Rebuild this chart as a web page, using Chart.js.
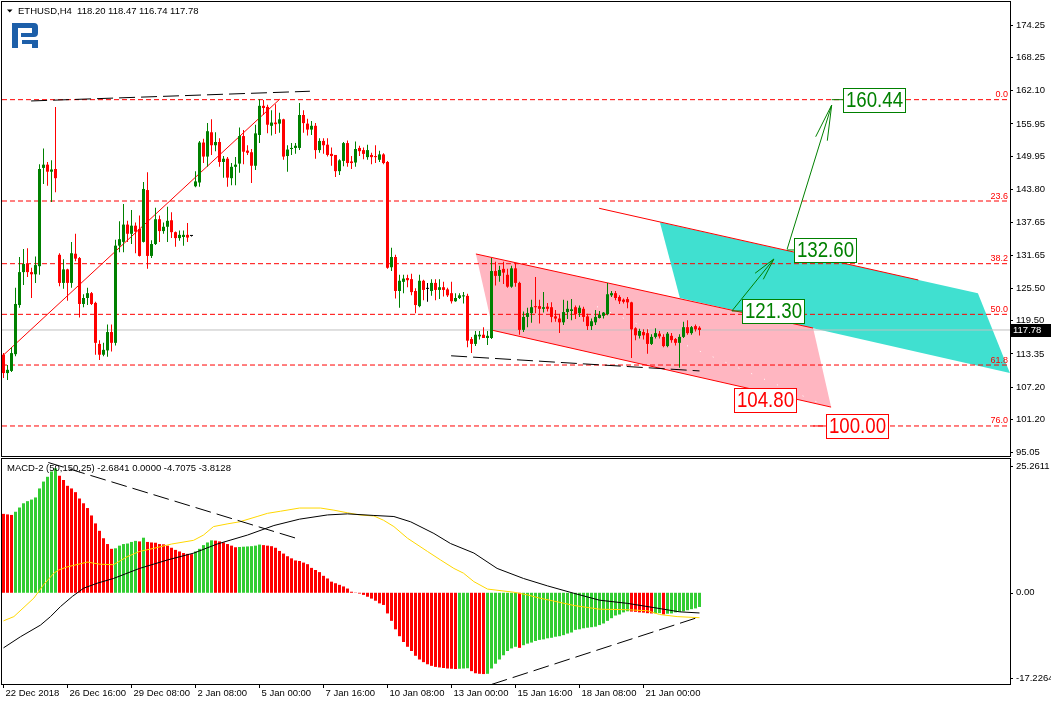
<!DOCTYPE html>
<html>
<head>
<meta charset="utf-8">
<script src="https://cdn.jsdelivr.net/npm/chart.js@4.4.0/dist/chart.umd.min.js"></script>
<style>
  html, body { margin: 0; padding: 0; background: #fff; }
  #wrap { position: relative; width: 1051px; height: 705px; }
  #price { position: absolute; left: 0; top: 0; }
  #macd { position: absolute; left: 0; top: 457px; }
</style>
</head>
<body>
<div id="wrap">
  <canvas id="price" width="1051" height="458"></canvas>
  <canvas id="macd" width="1051" height="248"></canvas>
</div>
<script>
// ETHUSD H4 candles, one entry per bar
const open = [
  113.2, 109.8, 110.2, 113.3, 122.4, 128.5, 130.0, 128.5, 128.1, 129.6,
  147.8, 148.4, 147.1, 147.6, 131.7, 126.5, 129.0, 126.5, 131.9, 131.1,
  122.6, 123.7, 124.6, 122.8, 115.2, 113.2, 114.0, 117.4, 115.4, 133.4,
  134.1, 137.3, 135.6, 137.1, 136.5, 134.1, 143.7, 131.5, 133.7, 138.3,
  136.1, 136.9, 138.1, 135.9, 134.8, 135.0, 135.4, 135.2, 144.4, 145.1,
  152.5, 149.9, 154.4, 152.0, 152.6, 148.9, 149.5, 145.9, 148.0, 148.6,
  153.7, 151.0, 150.7, 148.2, 153.9, 159.3, 159.1, 155.6, 156.2, 156.0,
  156.8, 150.0, 151.3, 151.5, 151.5, 157.6, 156.0, 154.9, 155.6, 151.1,
  152.8, 152.1, 150.4, 150.2, 147.2, 149.1, 152.4, 149.0, 148.8, 151.5,
  151.1, 149.8, 150.2, 150.0, 149.3, 150.3, 148.9, 129.4, 131.3, 125.0,
  126.7, 127.4, 127.2, 125.0, 122.2, 126.9, 125.4, 125.0, 126.5, 125.2,
  125.7, 125.3, 124.6, 123.1, 123.7, 124.0, 124.1, 116.1, 115.2, 116.6,
  116.9, 116.3, 116.3, 128.7, 127.8, 129.1, 128.0, 125.8, 129.2, 126.5,
  117.8, 120.2, 120.9, 122.2, 122.2, 121.7, 122.1, 122.0, 120.3, 119.9,
  119.2, 121.1, 121.3, 122.0, 120.9, 121.7, 120.3, 118.5, 119.2, 120.0,
  120.4, 120.7, 124.2, 124.6, 123.9, 123.4, 123.5, 122.9, 118.1, 116.7,
  117.4, 117.2, 115.2, 116.5, 117.1, 116.5, 114.8, 116.7, 116.1, 115.4,
  116.5, 118.3, 117.2, 118.5, 118.20
];
const high = [
  113.5, 111.3, 114.6, 125.6, 131.3, 132.8, 132.9, 129.3, 131.4, 148.5,
  151.4, 148.9, 149.2, 159.1, 132.0, 130.9, 129.1, 134.1, 135.6, 131.3,
  124.4, 125.6, 124.8, 123.0, 115.9, 115.4, 118.8, 118.8, 134.5, 137.9,
  141.1, 138.0, 140.0, 137.7, 139.0, 145.2, 147.0, 134.4, 140.4, 139.0,
  137.7, 140.6, 139.6, 136.0, 136.2, 136.2, 137.6, 135.3, 147.2, 152.8,
  153.2, 156.1, 156.8, 154.4, 153.3, 150.0, 149.8, 148.7, 149.8, 155.3,
  154.8, 152.0, 151.3, 155.8, 160.5, 160.4, 159.5, 158.5, 159.6, 158.0,
  156.9, 152.0, 152.4, 152.4, 159.8, 158.5, 156.9, 156.5, 156.1, 153.3,
  153.3, 153.3, 151.6, 150.2, 149.4, 152.6, 152.9, 150.0, 152.7, 151.9,
  151.6, 152.1, 150.6, 152.0, 151.0, 150.5, 149.1, 133.0, 131.7, 128.0,
  128.0, 128.0, 128.2, 125.5, 128.0, 127.1, 126.5, 127.2, 127.2, 127.2,
  126.7, 125.6, 126.7, 124.6, 124.6, 124.8, 124.5, 116.5, 117.6, 117.6,
  118.3, 117.6, 131.1, 130.4, 129.7, 130.4, 129.1, 129.7, 130.2, 126.7,
  121.2, 121.9, 123.4, 127.6, 123.4, 124.8, 122.8, 122.9, 121.5, 120.8,
  123.4, 123.2, 123.5, 122.3, 122.3, 122.1, 120.8, 119.9, 121.5, 121.3,
  121.1, 126.5, 125.0, 125.0, 124.2, 123.6, 123.9, 123.0, 118.3, 118.0,
  117.9, 117.9, 117.0, 118.1, 117.6, 117.0, 117.4, 117.2, 116.3, 117.0,
  119.3, 119.6, 118.5, 118.8, 118.47
];
const low = [
  108.9, 108.5, 110.0, 112.9, 121.9, 126.1, 127.6, 123.7, 126.5, 128.0,
  144.8, 144.5, 141.5, 143.3, 125.9, 125.4, 123.2, 125.6, 130.5, 120.1,
  122.0, 122.4, 122.4, 113.2, 112.2, 112.9, 112.8, 113.8, 114.9, 132.2,
  132.2, 134.1, 133.7, 132.0, 131.4, 134.0, 129.1, 131.1, 133.5, 134.1,
  135.6, 134.1, 134.8, 133.2, 134.3, 133.4, 134.1, 135.1, 144.2, 144.3,
  148.7, 148.0, 150.2, 150.9, 148.0, 146.0, 144.3, 144.6, 144.6, 146.9,
  148.5, 150.2, 145.0, 147.4, 152.4, 157.6, 154.2, 153.8, 154.1, 154.3,
  149.3, 147.1, 150.2, 150.4, 151.1, 154.3, 153.8, 153.9, 149.5, 150.6,
  150.4, 149.9, 148.2, 146.1, 146.5, 148.1, 148.0, 147.6, 148.0, 150.0,
  149.4, 149.3, 148.5, 148.7, 148.9, 148.5, 129.1, 128.7, 123.6, 121.9,
  124.6, 125.7, 124.2, 120.9, 122.0, 123.3, 123.0, 124.1, 123.3, 123.5,
  124.0, 123.9, 122.7, 123.0, 123.5, 122.7, 114.6, 113.5, 114.8, 116.0,
  116.3, 115.0, 116.1, 126.0, 126.7, 126.3, 125.6, 125.6, 125.8, 116.9,
  117.4, 118.3, 119.1, 120.9, 119.0, 121.0, 121.2, 119.2, 119.3, 117.2,
  118.7, 119.8, 119.6, 119.8, 120.2, 119.3, 117.8, 117.8, 118.7, 119.9,
  119.9, 120.5, 123.9, 123.3, 122.6, 122.7, 121.8, 112.6, 115.9, 116.2,
  116.0, 113.4, 115.0, 116.2, 116.2, 114.6, 114.6, 115.4, 114.9, 110.8,
  116.3, 116.9, 116.9, 117.5, 116.74
];
const close = [
  109.8, 110.4, 113.5, 122.6, 128.5, 130.0, 128.5, 128.1, 129.8, 147.6,
  148.4, 147.1, 147.5, 145.9, 126.5, 129.0, 126.5, 132.0, 131.0, 122.6,
  123.7, 124.6, 122.6, 115.4, 113.2, 114.1, 117.4, 115.4, 133.4, 134.6,
  137.3, 135.6, 137.1, 136.0, 131.5, 143.9, 131.5, 133.7, 138.3, 136.1,
  136.9, 138.0, 135.9, 134.8, 135.4, 135.4, 134.9, 135.2, 145.3, 152.5,
  149.9, 154.6, 152.0, 152.6, 148.9, 149.5, 146.0, 148.0, 148.4, 153.7,
  150.8, 150.6, 148.2, 154.2, 159.3, 158.9, 155.8, 156.2, 155.9, 156.8,
  149.9, 151.2, 151.5, 151.9, 157.6, 156.1, 154.9, 155.6, 151.1, 152.8,
  152.0, 150.2, 150.0, 147.2, 149.2, 152.4, 148.7, 148.7, 151.3, 150.9,
  150.4, 151.1, 149.8, 149.8, 150.3, 148.7, 129.3, 131.3, 125.0, 126.9,
  127.3, 127.0, 124.8, 122.4, 126.9, 125.2, 125.4, 126.5, 125.2, 125.7,
  125.2, 124.2, 123.1, 123.7, 124.2, 124.2, 115.8, 115.2, 116.9, 116.9,
  116.3, 116.7, 128.7, 127.8, 128.9, 128.4, 125.8, 129.2, 126.5, 117.8,
  120.2, 120.9, 122.0, 122.0, 121.7, 122.0, 121.7, 120.2, 119.9, 119.2,
  121.1, 121.7, 121.6, 120.7, 121.9, 120.2, 118.5, 119.4, 120.2, 120.6,
  121.0, 124.4, 124.6, 123.7, 123.1, 123.0, 122.9, 117.9, 116.8, 117.6,
  116.8, 115.2, 116.5, 117.2, 116.6, 114.8, 117.1, 115.9, 115.4, 116.5,
  118.3, 117.2, 118.3, 117.9, 117.78
];

// MACD-2 histogram, one value per bar
const hist = [
  14.9, 14.8, 14.7, 15.3, 16.1, 16.9, 17.3, 17.6, 18.0, 19.7,
  21.0, 21.9, 22.9, 23.5, 22.1, 21.3, 20.2, 19.7, 19.0, 17.8,
  16.9, 16.0, 14.6, 13.1, 11.7, 10.3, 9.2, 8.3, 8.4, 8.9,
  9.2, 9.3, 9.6, 9.8, 9.7, 10.4, 9.6, 9.5, 9.45, 9.2,
  9.15, 8.9, 8.5, 8.1, 7.8, 7.5, 7.35, 7.3, 7.8, 8.3,
  9.0, 9.5, 9.9, 9.85, 9.7, 9.5, 9.2, 8.9, 8.6, 8.65,
  8.7, 8.75, 8.8, 8.9, 9.1, 9.0, 8.9, 8.8, 8.5, 7.9,
  7.4, 6.9, 6.5, 6.1, 6.0, 5.7, 5.4, 4.7, 4.3, 3.9,
  3.2, 2.7, 2.1, 1.8, 1.5, 1.2, 0.8, 0.2, 0.05, -0.15,
  -0.4, -0.75, -1.1, -1.5, -2.0, -2.3, -3.9, -5.3, -6.9, -8.2,
  -9.3, -10.2, -11.0, -11.9, -12.6, -13.1, -13.5, -13.8, -14.0, -14.1,
  -14.2, -14.3, -14.35, -14.4, -14.35, -14.3, -14.25, -14.8, -15.2, -15.3,
  -15.35, -15.3, -14.3, -13.4, -12.6, -11.8, -11.0, -10.5, -10.2, -10.4,
  -9.9, -9.6, -9.4, -9.1, -8.9, -8.8, -8.6, -8.5, -8.3, -8.2,
  -8.0, -7.7, -7.5, -7.0, -6.9, -6.7, -6.6, -6.5, -6.4, -6.1,
  -5.8, -5.3, -4.8, -4.3, -4.1, -3.7, -3.5, -3.55, -3.6, -3.7,
  -3.75, -3.85, -3.9, -3.88, -3.85, -4.1, -3.95, -3.9, -3.7, -3.6,
  -3.5, -3.3, -3.1, -2.95, -2.68
];
// MACD lines, [bar, value] points
const signalLine = [
  [0, -5.3], [2.6, -4.5], [7.6, -1.0], [10, 1.5], [12.6, 3.7], [13.8, 4.3], [16, 4.9], [21, 5.8],
  [24, 5.4], [27.5, 5.3], [30.9, 6.8], [34, 7.8], [37.6, 8.4], [42, 9.2], [47.5, 9.9], [50, 10.9],
  [52.5, 12.5], [55.9, 13.0], [59, 13.4], [63.4, 14.4], [66, 15.0], [69.25, 15.4], [74, 16.0],
  [79.25, 16.0], [82.6, 15.6], [86, 15.1], [89, 14.7], [92.6, 14.5], [95, 13.7], [97.6, 12.5],
  [101, 10.3], [106, 7.8], [109.25, 6.2], [112.6, 4.6], [115, 3.7], [117.6, 2.1], [121, 0.7],
  [127.6, 0.1], [131, -0.4], [134, -1.0], [138.4, -1.7], [142.6, -2.4], [149, -3.1], [156, -3.2],
  [161, -3.4], [164, -4.1], [168.4, -4.5], [174, -4.7075]
];
const mainLine = [
  [0, -10.4], [4.25, -8.3], [9.25, -6.1], [11.75, -4.5], [14.25, -2.6], [17.2, -0.7], [20, 0.85],
  [23.4, 1.8], [27.5, 2.7], [34, 4.6], [41, 6.2], [47.6, 7.5], [53.4, 9.2], [61, 10.9], [67.6, 12.7],
  [74, 13.9], [81, 14.7], [86, 14.9], [92.6, 14.6], [97.6, 14.4], [101.8, 13.4], [107.6, 11.2],
  [111.75, 9.3], [117.6, 7.5], [123.4, 4.6], [130, 2.7], [136, 1.3], [142.6, -0.1], [149, -1.4],
  [156, -2.0], [162.6, -2.8], [169, -3.6], [174, -3.8128]
];
const macdTrendHigh = [[11.2, 24.6], [74, 10.1]];
const macdTrendLow = [[122.05, -17.3], [173.7, -4.63]];

// price-panel drawings, [bar, price] points
const fibLevels = [160.44, 141.67, 130.06, 120.68, 111.29, 100.0];
const fibNames = ['0.0', '23.6', '38.2', '50.0', '61.8', '76.0'];
const riseLine = [[0, 113.15], [69.1, 160.56]];
const topDashed = [[6.9, 160.2], [76.6, 162.0]];
const lowDashed = [[111.9, 113.0], [174, 110.2]];
const pinkChannel = [[118.1, 131.86], [202.4, 118.14], [206.9, 103.5], [122.4, 117.7], [118.1, 131.86]];
const pinkTop = [[118.1, 131.86], [202.4, 118.14]];
const pinkBottom = [[122.4, 117.7], [206.9, 103.5]];
const pinkMid = [[148.4, 122.1], [204.1, 104.2]];
const cyanChannel = [[164.1, 137.75], [243.6, 124.6], [251.6, 109.8], [169.1, 123.7], [164.1, 137.75]];
const cyanTop = [[148.9, 140.32], [228.7, 127.04]];
const arrowLow = [[182.1, 121.3], [192.6, 130.93]];
const arrowLowHead = [[187.9, 128.29], [192.6, 130.93], [189.95, 127.17]];
const arrowHigh = [[195.9, 132.73], [207.05, 159.45]];
const arrowHighHead = [[203.05, 153.58], [207.05, 159.45], [205.95, 152.84]];
const targetText = ['160.44', '132.60', '121.30', '104.80', '100.00'];
const targetBar = [209.8, 197.7, 184.7, 182.7, 205.6];
const targetUp = [true, true, true, false, false];
const targetLead = [[207.05, 209.8], [195.9, 197.7], [182.1, 184.7], null, [202.4, 205.6]];

const priceTicks = [95.05, 101.20, 107.20, 113.35, 119.50, 125.50, 131.65, 137.65, 143.80, 149.95, 155.95, 162.10, 168.25, 174.25];
const macdTicks = [25.2611, 0, -17.2264];
const dateLabels = ['22 Dec 2018', '26 Dec 16:00', '29 Dec 08:00', '2 Jan 08:00', '5 Jan 00:00', '7 Jan 16:00',
  '10 Jan 08:00', '13 Jan 00:00', '15 Jan 16:00', '18 Jan 08:00', '21 Jan 00:00'];
const header = 'ETHUSD,H4  118.20 118.47 116.74 117.78';
const macdTitle = 'MACD-2 (50,150,25) -2.6841 0.0000 -4.7075 -3.8128';

const FONT = '"Liberation Sans", Arial, sans-serif';
const X_MIN = -0.375, X_MAX = 251.625;   // 4px per bar, chart is shifted to the left
Chart.defaults.font.family = FONT;

const bars = open.map((_, i) => i);
const candleColors = bars.map(i => close[i] > open[i] ? '#008000' : close[i] < open[i] ? '#ff0000' : '#000000');
const histColors = hist.map((v, i) => i > 0 && v > hist[i - 1] ? '#32cd32' : '#ff0000');
const last = close.length - 1;

function line(points, color, extra) {
  return Object.assign({
    type: 'line',
    data: points.map(([x, y]) => ({ x, y })),
    borderColor: color,
    borderWidth: 1,
    pointRadius: 0,
    fill: false,
    tension: 0,
    order: 60
  }, extra || {});
}

// keep the plot area fixed: no extra room for half labels at the ends
function noPad(s) {
  s.paddingTop = 0;
  s.paddingBottom = 0;
  s.paddingLeft = 0;
  s.paddingRight = 0;
}

const priceDatasets = [
  { label: 'wicks', data: bars.map(i => ({ x: i, y: [low[i], high[i]] })), backgroundColor: candleColors,
    barThickness: 1, grouped: false, inflateAmount: 0, order: 20 },
  { label: 'bodies', data: bars.map(i => ({ x: i, y: [open[i], close[i]] })), backgroundColor: candleColors,
    barThickness: 3, minBarLength: 1, grouped: false, inflateAmount: 0, order: 10 },
  line(cyanChannel, 'rgba(0,0,0,0)', { fill: 'shape', backgroundColor: '#40e0d0', order: 100 }),
  line(pinkChannel, 'rgba(0,0,0,0)', { fill: 'shape', backgroundColor: '#ffb6c1', order: 90 }),
  line(pinkMid, '#ffffff', { borderDash: [1, 13], order: 85 }),
  line([[X_MIN, close[last]], [X_MAX, close[last]]], '#c0c0c0', { order: 82 })
];
fibLevels.forEach(p => priceDatasets.push(line([[X_MIN, p], [X_MAX, p]], '#ff0000', { borderDash: [5, 3], order: 80 })));
[riseLine, pinkTop, pinkBottom, cyanTop].forEach(l => priceDatasets.push(line(l, '#ff0000', { order: 70 })));
[topDashed, lowDashed].forEach(l => priceDatasets.push(line(l, '#000000', { borderDash: [16, 6], order: 65 })));
[arrowLow, arrowLowHead, arrowHigh, arrowHighHead].forEach(l => priceDatasets.push(line(l, '#008000')));
targetLead.forEach((seg, k) => {
  if (!seg) return;
  const p = Number(targetText[k]);
  priceDatasets.push(line([[seg[0], p], [seg[1], p]], targetUp[k] ? '#008000' : '#ff0000'));
});

function drawLogo(ctx) {
  ctx.fillStyle = '#1d5fa9';
  ctx.fillRect(12, 23, 6, 25);
  ctx.beginPath();
  ctx.moveTo(12, 23);
  ctx.lineTo(33, 23);
  ctx.arcTo(38, 23, 38, 28, 4);
  ctx.lineTo(38, 33);
  ctx.arcTo(38, 37, 34, 37, 4);
  ctx.lineTo(21, 37);
  ctx.lineTo(21, 33);
  ctx.lineTo(32, 33);
  ctx.lineTo(32, 28);
  ctx.lineTo(12, 28);
  ctx.closePath();
  ctx.fill();
  ctx.fillRect(22, 40, 16, 4);
  ctx.fillRect(32, 40, 6, 8);
}

const priceOverlay = {
  id: 'priceOverlay',
  afterDatasetsDraw(chart) {
    const { ctx, chartArea: a, scales: { x, y } } = chart;
    ctx.save();
    // fibo captions
    ctx.font = '9px ' + FONT;
    ctx.fillStyle = '#ff0000';
    ctx.textAlign = 'right';
    ctx.textBaseline = 'alphabetic';
    fibLevels.forEach((p, k) => ctx.fillText(fibNames[k], a.right - 2, y.getPixelForValue(p) - 2.5));
    // boxed target prices
    targetText.forEach((t, k) => {
      const col = targetUp[k] ? '#008000' : '#ff0000';
      const left = Math.round(x.getPixelForValue(targetBar[k])) + 0.5;
      const cy = y.getPixelForValue(Number(t));
      const top = Math.round(cy - 12) + 0.5;
      ctx.fillStyle = '#ffffff';
      ctx.fillRect(left, top, 62, 24);
      ctx.strokeStyle = col;
      ctx.lineWidth = 1;
      ctx.strokeRect(left, top, 62, 24);
      ctx.save();
      ctx.translate(left + 31, top + 12.5);
      ctx.scale(0.85, 1);
      ctx.font = '22px ' + FONT;
      ctx.fillStyle = col;
      ctx.textAlign = 'center';
      ctx.textBaseline = 'middle';
      ctx.fillText(t, 0, 0);
      ctx.restore();
    });
    ctx.restore();
  },
  afterDraw(chart) {
    const { ctx, chartArea: a, scales: { y } } = chart;
    ctx.save();
    ctx.strokeStyle = '#000';
    ctx.lineWidth = 1;
    ctx.strokeRect(a.left - 0.5, a.top - 0.5, a.width + 1, a.height + 1);
    // header
    ctx.fillStyle = '#000';
    ctx.beginPath();
    ctx.moveTo(7, 9.5); ctx.lineTo(12.5, 9.5); ctx.lineTo(9.75, 12.5);
    ctx.closePath();
    ctx.fill();
    ctx.font = '9.5px ' + FONT;
    ctx.textBaseline = 'alphabetic';
    ctx.fillText(header, 18, 14);
    drawLogo(ctx);
    // last price tag
    const py = Math.round(y.getPixelForValue(close[last]));
    ctx.fillStyle = '#000';
    ctx.fillRect(a.right + 1, py - 6, 40, 13);
    ctx.fillStyle = '#fff';
    ctx.textBaseline = 'middle';
    ctx.fillText(close[last].toFixed(2), a.right + 3, py + 0.5);
    ctx.restore();
  }
};

new Chart(document.getElementById('price'), {
  type: 'bar',
  data: { datasets: priceDatasets },
  options: {
    responsive: false,
    animation: false,
    devicePixelRatio: 1,
    events: [],
    layout: { padding: { left: 2, right: 0, top: 2, bottom: 2 } },
    plugins: { legend: { display: false }, tooltip: { enabled: false } },
    scales: {
      x: { type: 'linear', display: false, min: X_MIN, max: X_MAX, offset: false },
      y: {
        type: 'linear', position: 'right', min: 94.44, max: 178.53,
        afterBuildTicks: s => { s.ticks = priceTicks.map(v => ({ value: v })); },
        afterFit: s => { s.width = 41; noPad(s); },
        border: { display: false },
        grid: { drawOnChartArea: false, drawTicks: true, tickLength: 3, color: '#000' },
        ticks: { callback: v => v.toFixed(2), font: { size: 9.5 }, color: '#000', padding: 3, autoSkip: false }
      }
    }
  },
  plugins: [priceOverlay]
});

const macdOverlay = {
  id: 'macdOverlay',
  afterDraw(chart) {
    const { ctx, chartArea: a, scales: { y } } = chart;
    ctx.save();
    ctx.strokeStyle = '#000';
    ctx.lineWidth = 1;
    ctx.strokeRect(a.left - 0.5, a.top - 0.5, a.width + 1, a.height + 1);
    ctx.font = '9.5px ' + FONT;
    ctx.fillStyle = '#000';
    ctx.textAlign = 'left';
    ctx.textBaseline = 'middle';
    macdTicks.forEach(v => {
      const py = Math.min(Math.max(y.getPixelForValue(v), a.top + 7), a.bottom - 6);
      const ry = Math.round(py) + 0.5;
      ctx.beginPath();
      ctx.moveTo(a.right, ry);
      ctx.lineTo(a.right + 3, ry);
      ctx.stroke();
      ctx.fillText(v === 0 ? '0.00' : v.toFixed(4), a.right + 6, py);
    });
    ctx.textBaseline = 'alphabetic';
    ctx.fillText(macdTitle, 7, a.top + 12);
    ctx.restore();
  }
};

new Chart(document.getElementById('macd'), {
  type: 'bar',
  data: {
    datasets: [
      { label: 'hist', data: bars.map(i => ({ x: i, y: hist[i] })), backgroundColor: histColors,
        barThickness: 3, grouped: false, inflateAmount: 0, order: 20 },
      line(signalLine, '#ffd700', { order: 10 }),
      line(mainLine, '#000000', { order: 5 }),
      line(macdTrendHigh, '#000000', { borderDash: [16, 6], order: 4 }),
      line(macdTrendLow, '#000000', { borderDash: [16, 6], order: 4 })
    ]
  },
  options: {
    responsive: false,
    animation: false,
    devicePixelRatio: 1,
    events: [],
    layout: { padding: { left: 2, right: 0, top: 2, bottom: 0 } },
    plugins: { legend: { display: false }, tooltip: { enabled: false } },
    scales: {
      x: {
        type: 'linear', position: 'bottom', min: X_MIN, max: X_MAX, offset: false,
        afterBuildTicks: s => { s.ticks = dateLabels.map((_, k) => ({ value: k * 16 })); },
        afterFit: s => { s.height = 21; noPad(s); },
        border: { display: false },
        grid: { drawOnChartArea: false, drawTicks: true, tickLength: 4, color: '#000', offset: false },
        ticks: { callback: (v, k) => dateLabels[k], align: 'start', labelOffset: 2, padding: 0,
          maxRotation: 0, autoSkip: false, font: { size: 9.5 }, color: '#000' }
      },
      y: {
        type: 'linear', position: 'right', min: -17.2264, max: 25.2611,
        afterBuildTicks: s => { s.ticks = macdTicks.map(v => ({ value: v })); },
        afterFit: s => { s.width = 41; noPad(s); },
        border: { display: false },
        grid: { display: false },
        ticks: { callback: () => '' }
      }
    }
  },
  plugins: [macdOverlay]
});
</script>
</body>
</html>
